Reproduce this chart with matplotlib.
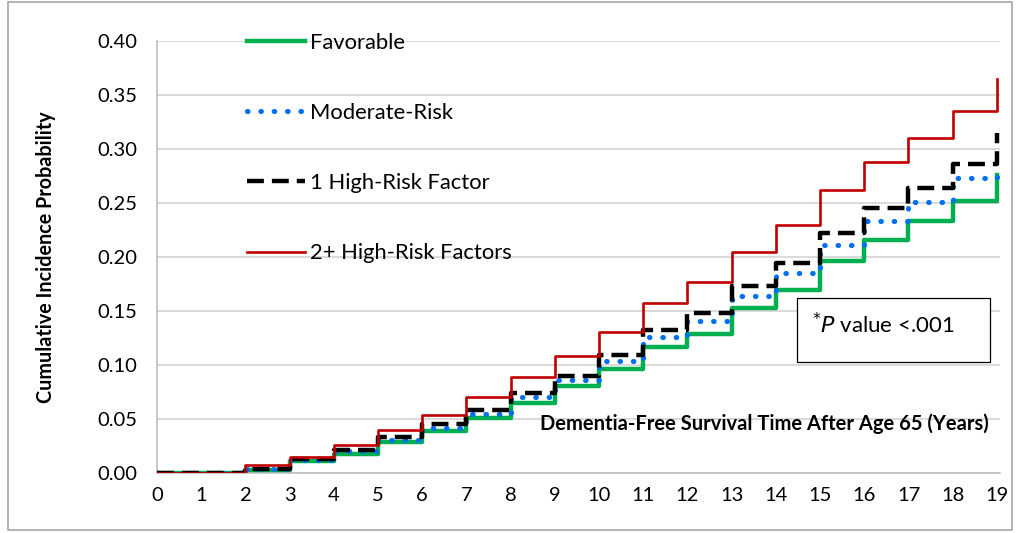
import numpy as np
import matplotlib
matplotlib.use("Agg")
from matplotlib import pyplot as plt
from matplotlib.patches import Rectangle

plt.rcParams['font.family'] = ['Lato', 'DejaVu Sans']

### Cumulative incidence of dementia by risk group

years = list(range(0, 20))
favorable = [0, 0, 0.003, 0.011, 0.018, 0.029, 0.039, 0.051, 0.065, 0.081,
             0.096, 0.117, 0.129, 0.153, 0.169, 0.196, 0.216, 0.233, 0.252, 0.276]
moderate = [0, 0, 0.004, 0.012, 0.020, 0.031, 0.042, 0.055, 0.070, 0.086,
            0.104, 0.126, 0.141, 0.164, 0.185, 0.211, 0.233, 0.251, 0.273, 0.278]
one_high = [0, 0, 0.004, 0.013, 0.021, 0.033, 0.045, 0.058, 0.074, 0.090,
            0.109, 0.132, 0.148, 0.173, 0.194, 0.222, 0.245, 0.264, 0.286, 0.315]
two_high = [0, 0, 0.007, 0.015, 0.026, 0.040, 0.054, 0.070, 0.089, 0.108,
            0.131, 0.157, 0.177, 0.205, 0.230, 0.262, 0.288, 0.310, 0.335, 0.365]
labels = ['Favorable', 'Moderate-Risk', '1 High-Risk Factor', '2+ High-Risk Factors']
yticks = [0.00, 0.05, 0.10, 0.15, 0.20, 0.25, 0.30, 0.35, 0.40]

fig = plt.figure(figsize=(10.16, 5.33), dpi=100)
ax = fig.add_axes([157/1016, 1 - 473/533, 843/1016, 432/533])

ax.step(years, favorable, where='post', color='#00B050', lw=3.2, label=labels[0], zorder=3)
ax.step(years, moderate, where='post', color='#0070F0', lw=3.7, linestyle=(0, (0.1, 2.5)),
        dash_capstyle='round', label=labels[1], zorder=4)
ax.step(years, one_high, where='post', color='black', lw=3.2, linestyle=(0, (3.8, 1.8)),
        label=labels[2], zorder=5)
ax.step(years, two_high, where='post', color='#C00000', lw=1.9, label=labels[3], zorder=6)

ax.set_xlim(0, 19.07)
ax.set_ylim(0, 0.40)
ax.set_xticks(years)
ax.set_yticks(yticks)
ax.set_yticklabels(['%.2f' % v for v in yticks])
ax.tick_params(axis='both', length=0, labelsize=14.5, colors='black')
ax.tick_params(axis='x', pad=10)
ax.tick_params(axis='y', pad=14)
ax.grid(True, axis='y', color='#d9d9d9', lw=1.4)
ax.set_axisbelow(True)
for s in ['top', 'right']:
    ax.spines[s].set_visible(False)
ax.spines['left'].set_color('#bfbfbf')
ax.spines['bottom'].set_color('#bfbfbf')
ax.spines['left'].set_linewidth(1.2)
ax.spines['bottom'].set_linewidth(1.2)

ax.set_ylabel('Cumulative Incidence Probability', fontsize=14.2, fontweight='bold', labelpad=30)
ax.text(13.75, 0.046, 'Dementia-Free Survival Time After Age 65 (Years)',
        fontsize=14.5, fontweight='bold', ha='center', va='center')

leg = ax.legend(loc='upper left', bbox_to_anchor=(0.083, 1.064), frameon=False,
                fontsize=15.8, labelspacing=2.28, handlelength=2.65, handletextpad=0.23)

ax.add_patch(Rectangle((0.759, 0.257), 0.229, 0.148, transform=ax.transAxes,
                       facecolor='white', edgecolor='black', lw=0.9, zorder=7))
ax.text(0.777, 0.343, r'$^{*}$$\mathit{P}$ value <.001', transform=ax.transAxes,
        fontsize=16, ha='left', va='center', zorder=8)

fig.add_artist(Rectangle((0.008, 0.006), 0.988, 0.99, transform=fig.transFigure,
                         facecolor='none', edgecolor='#a6a6a6', lw=1.2))

fig.savefig('out.png', dpi=100)
